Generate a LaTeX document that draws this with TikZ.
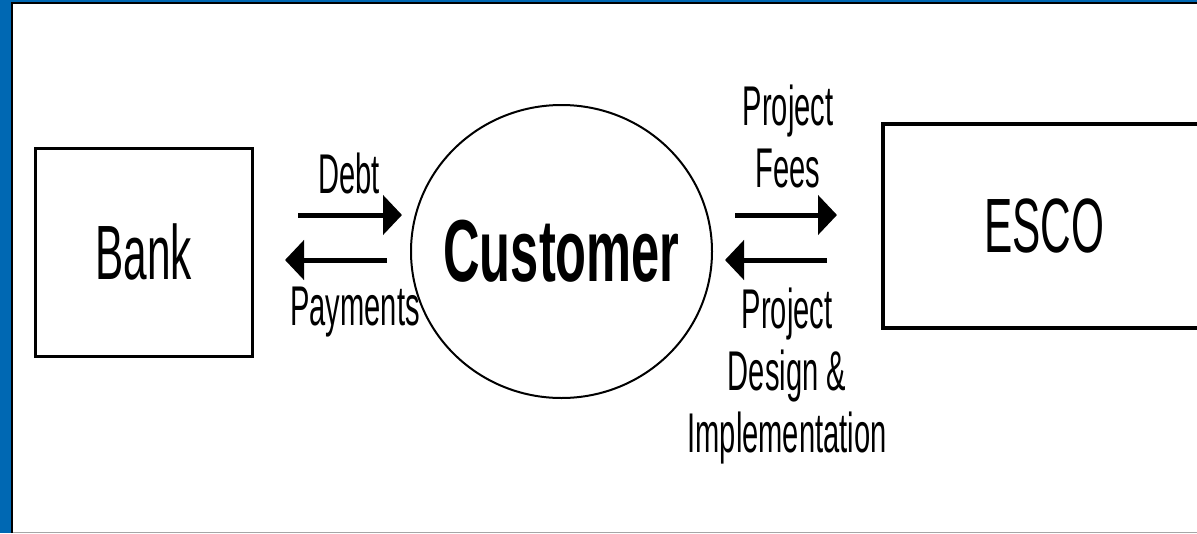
\documentclass[tikz,border=0pt]{standalone}
\usepackage{fontspec}
\usetikzlibrary{arrows.meta,shapes.geometric}
\newfontfamily\labfont[FakeStretch=0.52]{Liberation Sans}
\newfontfamily\boxfont[FakeStretch=0.55]{Liberation Sans}
\newfontfamily\custfont[FakeStretch=0.575]{Liberation Sans}
\definecolor{frameblue}{RGB}{0,104,179}
\tikzset{
  lbl/.style={font=\labfont\fontsize{56}{62}\selectfont, inner sep=0pt, align=center, anchor=base},
  arr/.style={line width=5pt, -{Triangle[length=19pt,width=39pt]}},
  boxnode/.style={draw, line width=3pt, inner sep=0pt, font=\boxfont\fontsize{77}{80}\selectfont}
}
\begin{document}
\begin{tikzpicture}[x=1pt,y=-1pt]
\useasboundingbox (0,0) rectangle (1197,533);
\fill[white] (0,0) rectangle (1197,533);
% frame
\fill[frameblue] (0,0) rectangle (11,533);
\fill[frameblue] (0,0) rectangle (1197,1.6);
\draw[line width=2pt] (12,533) -- (12,2.6) -- (1197,2.6);
\draw[gray!70, line width=1pt] (13,532.5) -- (1197,532.5);
% nodes
\node[boxnode, minimum width=217pt, minimum height=208pt] (bank) at (143.5,252) {Bank};
\node[boxnode, line width=4pt, minimum width=322pt, minimum height=204pt] (esco) at (1044,226) {ESCO};
\node[draw, ellipse, line width=2pt, inner sep=0pt, minimum width=301pt, minimum height=293pt] (cust) at (561.5,251.5) {};
\node[inner sep=0pt, font=\custfont\bfseries\fontsize{88}{90}\selectfont] (custtext) at (cust.center) {Customer};
% labels
\node[lbl] (debt) at (349,193) {Debt};
\node[lbl] (pay) at (355,325) {Payments};
\node[lbl] (fees) at (788,187) {Project\\Fees};
\node[lbl] (design) at (787,452) {Project\\Design \&\\Implementation};
% arrows
\coordinate (d1) at (298,215);
\coordinate (d2) at (402,215);
\coordinate (p1) at (387,260);
\coordinate (p2) at (285,260);
\coordinate (f1) at (735,215);
\coordinate (f2) at (837,215);
\coordinate (i1) at (827,260);
\coordinate (i2) at (725,260);
\draw[arr] (d1) -- (d2);
\draw[arr] (p1) -- (p2);
\draw[arr] (f1) -- (f2);
\draw[arr] (i1) -- (i2);
\end{tikzpicture}
\end{document}
